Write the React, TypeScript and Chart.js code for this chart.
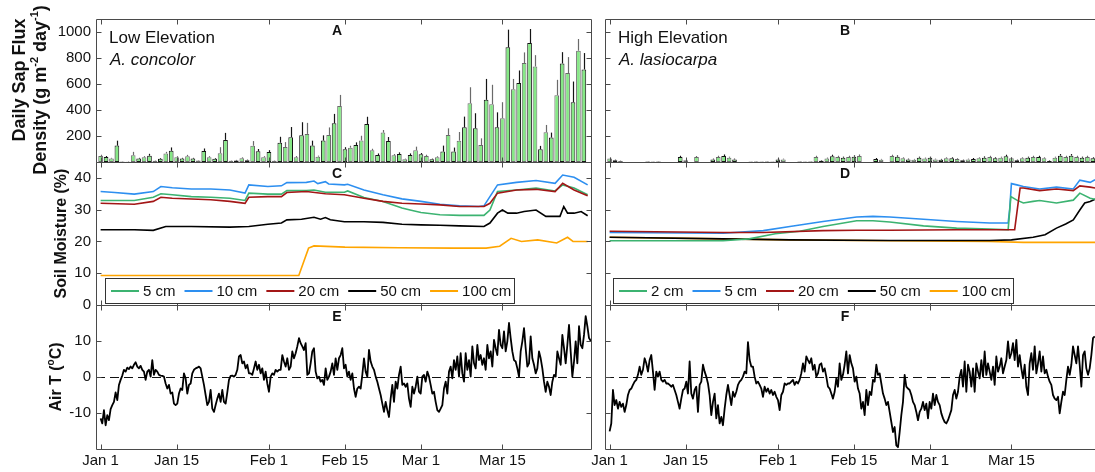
import React, { useEffect, useRef } from "react";
import { Chart, registerables } from "chart.js";

Chart.register(...registerables);

const FONT = "'Liberation Sans', Arial, Helvetica, sans-serif";
const INK = "#111111";

// ---------------- data ----------------
const dayTicks = [0, 14, 31, 45, 59, 74];
const dayTickLabels = ["Jan 1", "Jan 15", "Feb 1", "Feb 15", "Mar 1", "Mar 15"];
const sapTicks = [200, 400, 600, 800, 1000];
const soilTicks = [0, 10, 20, 30, 40];
const soilTickMarks = [10, 20, 30, 40];
const airTicks = [-10, 0, 10];

// daily sap flux density, day index 0 = Jan 1
const sapLow = [
  46, 38, 26, 126, 4, 2, 52, 26, 37, 48,
  9, 25, 66, 86, 37, 26, 45, 26, 12, 84,
  37, 25, 68, 170, 9, 12, 28, 14, 125, 82,
  37, 76, 10, 148, 115, 191, 36, 206, 216, 126,
  41, 165, 208, 298, 431, 99, 110, 131, 166, 292,
  90, 54, 226, 162, 51, 62, 21, 54, 90, 59,
  46, 21, 36, 80, 208, 80, 164, 267, 452, 260,
  131, 478, 445, 267, 337, 882, 560, 607, 761, 915,
  735, 98, 229, 188, 514, 758, 684, 460, 856, 712,
];
const sapLowErr = [
  10, 8, 6, 38, 2, 2, 26, 6, 8, 15,
  3, 6, 12, 26, 8, 6, 10, 6, 3, 20,
  8, 6, 46, 54, 3, 4, 8, 4, 36, 18,
  8, 15, 3, 46, 38, 78, 10, 100, 85, 38,
  8, 40, 58, 72, 85, 15, 15, 20, 36, 56,
  12, 12, 20, 30, 10, 12, 5, 12, 28, 10,
  10, 5, 8, 46, 51, 31, 67, 82, 123, 115,
  51, 161, 149, 115, 123, 136, 79, 97, 82, 108,
  87, 26, 56, 38, 118, 87, 123, 159, 90, 126,
];
const sapHigh = [
  26, 13, 8, 0, 0, 0, 0, 3, 3, 3,
  0, 0, 0, 38, 13, 0, 38, 0, 0, 20,
  38, 46, 33, 20, 0, 0, 3, 3, 3, 3,
  3, 20, 20, 0, 0, 3, 3, 3, 38, 10,
  26, 44, 38, 33, 38, 41, 46, 0, 0, 23,
  18, 0, 46, 41, 28, 20, 18, 33, 26, 33,
  20, 18, 28, 28, 23, 13, 20, 23, 28, 33,
  38, 28, 33, 44, 28, 13, 28, 33, 38, 38,
  28, 8, 33, 49, 38, 49, 38, 33, 38, 28,
];
const sapHighErr = [
  8, 5, 3, 0, 0, 0, 0, 1, 1, 1,
  0, 0, 0, 10, 5, 0, 8, 0, 0, 6,
  10, 12, 8, 6, 0, 0, 1, 1, 1, 1,
  1, 8, 6, 0, 0, 1, 1, 1, 10, 4,
  8, 12, 10, 8, 10, 10, 12, 0, 0, 8,
  6, 0, 10, 10, 8, 6, 6, 8, 8, 8,
  6, 6, 8, 8, 6, 5, 6, 8, 8, 10,
  10, 8, 8, 12, 8, 5, 8, 8, 10, 10,
  8, 4, 8, 12, 10, 12, 10, 8, 10, 8,
];

// soil moisture (%), [day, value]
const soilLowLabels = ["5 cm", "10 cm", "20 cm", "50 cm", "100 cm"];
const soilHighLabels = ["2 cm", "5 cm", "20 cm", "50 cm", "100 cm"];

const soilLow5 = [[0,32.9],[6.2,32.9],[9.7,33.9],[11.1,35.0],[13.2,34.7],[16.7,34.1],[20.3,33.9],[23.8,33.6],[26.6,32.9],[27.3,35.2],[30.8,34.9],[33.3,34.9],[34.3,36.0],[37.9,36.0],[39.3,36.2],[41.4,35.5],[44.9,35.5],[45.5,35.9],[48.5,33.8],[52,32.6],[55.5,30.5],[57,29.9],[59,29.1],[62.5,28.4],[66.1,28.2],[70.6,28.2],[71.7,29.9],[73.1,35.7],[76.6,36.2],[80.2,36.8],[83.7,35.9],[85.1,37.8],[87.2,36.8],[89.7,34.7]];
const soilLow10 = [[0,35.7],[2.6,35.4],[6.2,34.9],[9.7,35.7],[11.1,37.3],[13.2,36.9],[16.7,36.5],[20.3,36.5],[23.8,36.2],[26.6,35.2],[27.3,37.8],[30.8,37.3],[33.3,37.5],[34.3,38.5],[37.9,38.6],[39.3,39.0],[40.0,38.2],[41.4,38.8],[42.0,38.1],[44.9,37.8],[45.5,38.0],[48.5,36.2],[52,34.7],[55.5,33.4],[59,32.6],[62.5,31.7],[66.1,31.2],[69.6,31.0],[70.6,31.2],[71.7,34.1],[73.1,37.8],[76.6,38.6],[80.2,39.2],[83.7,38.3],[85.1,40.9],[87.2,40.2],[89.7,37.8]];
const soilLow20 = [[0,32.0],[6.2,31.7],[9.7,32.6],[11.1,33.9],[13.2,33.6],[20.3,33.1],[23.8,32.6],[26.6,32.0],[27.3,33.9],[30.8,34.1],[33.3,34.1],[34.3,35.4],[37.9,35.7],[41.4,35.0],[44.9,34.7],[48.5,33.6],[52,32.6],[55.5,32.0],[59,31.8],[62.5,31.5],[66.1,31.0],[70.6,31.0],[71.7,32.0],[73.1,35.2],[76.6,36.2],[80.2,36.4],[83.7,35.7],[85.1,38.3],[87.2,36.2],[89.7,34.4]];
const soilLow50 = [[0,23.7],[6.2,23.7],[9.7,23.5],[12,24.7],[16.7,24.7],[23.8,24.5],[27.3,24.7],[30.8,25.4],[33.3,25.8],[34.3,26.8],[37,27.0],[39.3,27.6],[40.5,27.0],[41.4,27.5],[42.3,26.8],[44.9,26.2],[48.5,26.2],[52,26.0],[55.5,25.4],[59,25.2],[62.5,25.1],[66.1,24.9],[70.6,24.7],[71.7,25.8],[73.1,28.9],[74,29.9],[75,28.9],[76.6,28.9],[78,29.4],[80.2,29.9],[82,27.9],[84.6,27.9],[85.3,31.0],[86,28.9],[87.2,28.9],[88.5,29.4],[89.7,28.1]];
const soilLow100 = [[0,9.3],[36.5,9.3],[38.3,17.9],[39.3,18.6],[45,18.2],[55,18.0],[65,17.9],[71,17.9],[73.5,18.5],[75.6,21.0],[77.5,20.0],[80.5,20.5],[84,19.5],[86,21.3],[87,20.0],[89.7,20.0]];

const soilHigh2 = [[0,20.2],[20.9,20.2],[25.7,20.8],[30.5,22.4],[35,23.2],[39.3,24.7],[45.5,26.5],[48.5,26.5],[51.6,26.1],[57.8,24.9],[63.9,24.2],[70,23.9],[73.4,23.7],[73.9,34.1],[75,33.0],[76.2,32.1],[78,32.6],[79.2,32.9],[82.3,32.1],[85.4,33.0],[86.6,35.2],[88.5,33.6],[89.4,33.3]];
const soilHigh5 = [[0,22.8],[20.9,22.6],[28.3,23.4],[33.2,24.7],[39.3,26.3],[45.5,27.7],[48.5,27.9],[51.6,27.7],[57.8,27.0],[63.9,26.3],[70,25.8],[73.4,25.8],[73.7,30.5],[74,38.2],[75,37.8],[76.2,37.3],[79.2,36.5],[82.3,37.1],[85.4,36.5],[86.6,39.3],[88.5,38.6],[89.4,39.4]];
const soilHigh20 = [[0,23.2],[20.9,22.8],[28.3,22.8],[39.3,23.4],[45.5,23.5],[51.6,23.5],[63.9,23.7],[74.6,23.7],[75.6,36.8],[76.2,36.8],[79.2,36.0],[82.3,36.5],[85.4,36.0],[86.6,37.5],[88.5,37.1],[89.4,36.8]];
const soilHigh50 = [[0,21.3],[20.9,20.8],[33.2,20.5],[51.6,20.3],[70,20.3],[74,20.5],[78,21.3],[80.2,22.1],[82.3,24.2],[84,25.5],[85.4,26.8],[86.6,29.9],[87.5,32.1],[88.5,32.6],[89.4,33.3]];
const soilHigh100 = [[0,21.3],[20.9,20.8],[33.2,20.5],[51.6,20.2],[70,20.0],[76.2,19.7],[89.4,19.7]];

// air temperature (deg C), sampled every airStepDays from Jan 1
const airStepDays = 0.307;
const airLow = [
  -11.5,-12.9,-9.2,-13.4,-10.6,-12,-8.9,-7.8,-6.9,-4.3,
  -6.4,-2.2,-0.8,0.4,2,1.5,2.6,2.2,2.9,2.4,
  3.4,4.1,2.9,2.4,3.1,2,1.5,-0.8,1.5,2,
  0.1,4.7,0.6,2,1.5,0.6,0.4,0.3,0.1,-1.8,
  -3.2,-2.2,-4.6,-4.3,-7.4,-7.8,-7.4,-4.6,-3.2,-3.6,
  1,-0.4,-4.6,-2.2,-1.8,1,2,2.4,2.6,2.9,
  2.4,0.1,-2.2,-5,-7.8,-6.9,-3.6,-8.8,-9.7,-7.8,
  -6,-4.6,-6.9,-3.6,-6.9,-7.4,-4.3,-0.8,0.3,0.4,
  0.1,0.6,2,5.7,6.1,3.8,4.3,2.4,3.4,1,
  1,0.6,2.4,4.3,2,3.4,1,2.4,-0.8,1.5,
  -1.8,-4.1,0.1,1,0.6,2,1.5,2,2,6.1,
  4.3,2.9,5.2,2,2.9,7.1,5.2,6.6,8.5,10.8,
  9.4,8.5,7.5,9.4,0.6,1,3.8,7.1,8,1.5,
  -0.4,0.1,-1.3,-0.8,-2.2,2.4,-0.8,0.1,1.5,3.8,
  0.6,5.2,2,5.2,6.1,8,2.4,
  3.4,0.1,1.5,-0.8,1,-3.2,-5.5,-3.2,-2.7,-3.2,
  0.6,5.2,1.5,0.1,7.5,4.3,2.9,2,0.1,-1.3,
  -3.2,-5,-7.4,-9.7,-6.9,-9.2,-11.1,-6,-2.2,-6.9,
  -1.3,-3.2,0.6,2.9,-2.2,-1.8,-2.7,-1.8,-6,-8.3,
  -2.7,-4.6,-2.7,0.1,-4.1,-4.6,0.1,0.6,-1.3,1.5,
  0.1,-2.2,-4.6,-4.1,-6.9,-9.2,-9.7,-8.8,-7.8,-3.2,
  -1.3,-4.6,1.5,2.9,-0.4,4.7,2,5.7,0.1,6.6,
  1,-1.3,6.6,2,4.7,0.1,8.5,3.8,2.4,8.9,
  4.7,6.1,3.4,5.2,2,8.9,5.2,7.1,2.9,10.3,
  8,6.1,13.1,8.9,8,12.7,7.1,9.9,15,10.8,
  7.1,4.7,4.3,2.4,0.1,7.1,9.9,13.6,8,2.9,
  3.8,11.3,5.2,3.4,1,2.4,7.1,5.2,2.4,-1.3,
  -4.1,-1.3,-2.7,-5,-1.3,0.6,0.1,7.1,5.2,3.4,
  11.7,8,3.8,8.9,14.5,7.1,0.1,4.3,9.9,3.8,
  14.1,8.9,8,11.7,16.9,14.1,10.8,10.1,10.1,
];
const airHigh = [
  -15.1,-12.9,-3.6,-7.8,-6.4,-8.8,-6.9,-8.3,-7.4,-9.7,
  -7.8,-5,-3.6,-3.2,-2.2,-1.3,-0.8,0.6,2.9,0.6,
  2,5.2,3.8,1.5,4.7,6.1,1.5,-3.6,1.5,0.1,
  1.5,-0.8,-1.3,-0.8,-1.8,-1.8,-2.2,-2.7,-2.2,-3.6,
  -5,-6.9,-8.8,-6,-3.6,-3.2,-1.3,-4.6,4.3,-4.6,
  -6,-3.6,-2.7,-9.7,-2.2,-1.3,3.4,1.5,0.1,-1.8,
  -5,-10.6,-6.9,-4.6,-11.5,-7.8,-12.9,-11.1,-13.4,-8.8,
  -5,-2.2,-5,-7.8,-4.1,-5.5,-4.1,-2.2,-1.3,-0.8,
  0.1,1.5,1,9.7,4.7,2.9,2.9,0.1,-1.8,-1.3,
  -2.2,-3.2,-5.5,-2.7,-4.1,-3.2,-4.6,-3.6,-5,-4.1,
  -5.5,-6.4,-9.2,-5,-4.1,-1.8,-2.2,-1.8,-1.8,-1.3,
  -0.8,-2.2,-1.3,-1.8,-0.8,1,3.8,1.5,5.7,4.7,
  3.8,5.2,2,3.4,0.1,1,3.4,3.8,1.5,2.4,
  0.1,-2.7,-3.2,-4.6,-6,-4.1,-0.4,-2.7,3.8,-0.8,
  0.6,3.4,7.1,1,6.1,3.8,
  2.4,-1.3,0.1,-3.2,-4.6,-8.8,-6.9,-10.6,-3.6,-7.8,
  -4.1,-5,-0.8,-1.3,3.4,0.6,1,-1.8,-4.6,-6,
  -7.8,-6.9,-9.7,-12.5,-15.3,-13.9,-19,-19.5,-15.3,-10.6,
  -6.9,0.6,-2.7,-3.2,-3.6,-5,-6.9,-7.8,-9.7,-12,
  -9.7,-8.8,-6.9,-9.2,-7.4,-11.5,-6.9,-8.8,-4.6,-7.8,
  -5,-6.9,-7.8,-10.1,-11.5,-12.5,-12.9,-12,-10.6,-9.2,
  -5,-3.6,-6,-4.1,0.1,2,-2.7,4.3,-4.1,3.4,
  1.5,-2.7,2.4,-4.1,3.8,1.5,-0.4,4.7,0.1,7.1,
  0.6,3.8,1.5,-0.8,2.9,-2.2,5.7,1.5,2.9,5.2,
  1,2.9,4.7,9.9,5.2,6.6,9.4,4.7,10.3,2.9,
  6.1,2.4,-0.4,3.4,-2.7,-5,3.8,6.6,2,8.5,
  1,3.8,7.1,1.5,5.7,1,2,0.1,-1.3,-2.2,
  -5,-6,-6.4,-5.5,-10.1,-6.9,-4.1,-5,-0.8,2.9,
  0.6,3.4,8.5,6.1,3.8,8.5,3.4,-2.7,6.1,7.1,
  2.4,0.6,2.4,6.1,10.8,11.3,
];

// ---------------- layout / style ----------------
const CW = 1110;
const CH = 472;
const COL_X = [[96, 592], [605, 1101]];
const ROW_Y = [[19, 162], [162, 305], [305, 449]];
const X_MIN = -0.85;
const X_MAX = 90.5;
const Y_RANGE = [[0, 1100], [0, 45], [-20, 20]];
const Y_AXIS_W = 60;
const X_AXIS_H = 20;
const LETTERS = [["A", "B"], ["C", "D"], ["E", "F"]];
const SOIL_COLORS = ["#3cb371", "#2d8ff0", "#a31616", "#000000", "#ffa500"];
const BAR_FILL = "#86e886";
const EDGE_DARK = "#141414";
const EDGE_GRAY = "#6a6a6a";
const FRAME = "#4a4a4a";

const toXY = (pairs: number[][]) => pairs.map(([x, y]) => ({ x, y }));

function sapDatasets(col: number) {
  const vals = col === 0 ? sapLow : sapHigh;
  return [
    {
      type: "bar",
      label: "Sap flux",
      data: vals.map((v, i) => ({ x: i, y: v })),
      backgroundColor: BAR_FILL,
      borderColor: vals.map((_, i) => (i % 2 === 1 ? EDGE_DARK : EDGE_GRAY)),
      borderWidth: 1,
      borderSkipped: false,
      barPercentage: 0.86,
      categoryPercentage: 1,
    },
  ];
}

function soilDatasets(col: number) {
  const series = col === 0
    ? [soilLow5, soilLow10, soilLow20, soilLow50, soilLow100]
    : [soilHigh2, soilHigh5, soilHigh20, soilHigh50, soilHigh100];
  const labels = col === 0 ? soilLowLabels : soilHighLabels;
  return series.map((s, k) => ({
    type: "line",
    label: labels[k],
    data: toXY(s),
    borderColor: SOIL_COLORS[k],
    backgroundColor: SOIL_COLORS[k],
    borderWidth: 1.6,
    pointRadius: 0,
    tension: 0,
    fill: false,
    order: k === 2 ? -1 : k,
  }));
}

function airDatasets(col: number) {
  const vals = col === 0 ? airLow : airHigh;
  return [
    {
      type: "line",
      label: "Air T",
      data: vals.map((v, i) => ({ x: i * airStepDays, y: v })),
      borderColor: "#000",
      borderWidth: 1.8,
      borderJoinStyle: "round",
      pointRadius: 0,
      tension: 0,
      fill: false,
    },
  ];
}

type Part = { t: string; sup?: boolean };

function drawRotated(ctx: CanvasRenderingContext2D, cx: number, cy: number, parts: Part[], size: number) {
  ctx.save();
  ctx.translate(cx, cy);
  ctx.rotate(-Math.PI / 2);
  const big = `bold ${size}px ${FONT}`;
  const small = `bold ${Math.round(size * 0.62)}px ${FONT}`;
  let total = 0;
  for (const p of parts) {
    ctx.font = p.sup ? small : big;
    total += ctx.measureText(p.t).width;
  }
  let x = -total / 2;
  ctx.textBaseline = "middle";
  ctx.textAlign = "left";
  ctx.fillStyle = INK;
  for (const p of parts) {
    ctx.font = p.sup ? small : big;
    ctx.fillText(p.t, x, p.sup ? -size * 0.36 : 0);
    x += ctx.measureText(p.t).width;
  }
  ctx.restore();
}

function drawLegend(ctx: CanvasRenderingContext2D, x0: number, y0: number, w: number, h: number, labels: string[]) {
  ctx.save();
  ctx.fillStyle = "#fff";
  ctx.fillRect(x0, y0, w, h);
  ctx.strokeStyle = "#333";
  ctx.lineWidth = 1;
  ctx.strokeRect(x0 + 0.5, y0 + 0.5, w, h);
  ctx.font = `15px ${FONT}`;
  ctx.textBaseline = "middle";
  ctx.textAlign = "left";
  const cy = y0 + h / 2 + 0.5;
  let x = x0 + 6;
  labels.forEach((lab, k) => {
    ctx.strokeStyle = SOIL_COLORS[k];
    ctx.lineWidth = 2;
    ctx.beginPath();
    ctx.moveTo(x, cy);
    ctx.lineTo(x + 28, cy);
    ctx.stroke();
    x += 32;
    ctx.fillStyle = INK;
    ctx.fillText(lab, x, cy + 1);
    x += ctx.measureText(lab).width + 9;
  });
  ctx.restore();
}

function decoPlugin(col: number, row: number) {
  return {
    id: `deco${col}${row}`,
    beforeDatasetsDraw(chart: any) {
      if (row !== 2) return;
      const { ctx, chartArea: a, scales } = chart;
      const y = Math.round(scales.y.getPixelForValue(0)) + 0.5;
      ctx.save();
      ctx.strokeStyle = "#111";
      ctx.lineWidth = 1;
      ctx.setLineDash([9, 5]);
      ctx.beginPath();
      ctx.moveTo(a.left, y);
      ctx.lineTo(a.right, y);
      ctx.stroke();
      ctx.restore();
    },
    afterDatasetsDraw(chart: any) {
      if (row !== 0) return;
      const { ctx, scales } = chart;
      const vals = col === 0 ? sapLow : sapHigh;
      const errs = col === 0 ? sapLowErr : sapHighErr;
      ctx.save();
      ctx.lineWidth = 1.2;
      vals.forEach((v, i) => {
        if (errs[i] <= 0) return;
        const x = Math.round(scales.x.getPixelForValue(i)) + 0.5;
        const y1 = scales.y.getPixelForValue(v);
        const y2 = scales.y.getPixelForValue(v + errs[i]);
        ctx.strokeStyle = i % 2 === 1 ? EDGE_DARK : EDGE_GRAY;
        ctx.beginPath();
        ctx.moveTo(x, y1);
        ctx.lineTo(x, y2);
        ctx.stroke();
      });
      ctx.restore();
    },
    afterDraw(chart: any) {
      const { ctx, chartArea: a, scales } = chart;
      const L = Math.round(a.left) + 0.5;
      const R = Math.round(a.right) - 0.5;
      const T = Math.round(a.top) + 0.5;
      const B = Math.round(a.bottom) + 0.5;
      ctx.save();
      ctx.strokeStyle = FRAME;
      ctx.lineWidth = 1;
      ctx.beginPath();
      ctx.moveTo(L, T); ctx.lineTo(R, T); ctx.lineTo(R, B); ctx.lineTo(L, B); ctx.closePath();
      ctx.stroke();
      ctx.beginPath();
      dayTicks.forEach((d) => {
        const x = Math.round(scales.x.getPixelForValue(d)) + 0.5;
        ctx.moveTo(x, T); ctx.lineTo(x, T + 5);
        ctx.moveTo(x, B); ctx.lineTo(x, B - 5);
      });
      const yMarks = row === 0 ? sapTicks : row === 1 ? soilTickMarks : airTicks;
      yMarks.forEach((v) => {
        const y = Math.round(scales.y.getPixelForValue(v)) + 0.5;
        ctx.moveTo(L, y); ctx.lineTo(L + 5, y);
        ctx.moveTo(R, y); ctx.lineTo(R - 5, y);
      });
      ctx.stroke();
      ctx.fillStyle = INK;
      ctx.font = `bold 14px ${FONT}`;
      ctx.textAlign = "center";
      ctx.textBaseline = "middle";
      ctx.fillText(LETTERS[row][col], (a.left + a.right) / 2 - 7 + (col === 1 ? -1 : 0), a.top + 12);
      if (row === 0) {
        ctx.textAlign = "left";
        ctx.textBaseline = "alphabetic";
        ctx.font = `17px ${FONT}`;
        ctx.fillText(col === 0 ? "Low Elevation" : "High Elevation", a.left + 13, 43);
        ctx.font = `italic 17px ${FONT}`;
        ctx.fillText(col === 0 ? "A. concolor" : "A. lasiocarpa", a.left + 14, 65);
      }
      if (row === 1) {
        if (col === 0) drawLegend(ctx, 105, 278, 409, 25, soilLowLabels);
        else drawLegend(ctx, 613, 278, 400, 25, soilHighLabels);
      }
      ctx.restore();
      if (col === 0) {
        if (row === 0) {
          drawRotated(ctx, 20, 80, [{ t: "Daily Sap Flux" }], 18);
          drawRotated(ctx, 41, 90, [
            { t: "Density (g m" }, { t: "-2", sup: true }, { t: " day" }, { t: "-1", sup: true }, { t: ")" },
          ], 18);
        } else if (row === 1) {
          drawRotated(ctx, 62, (a.top + a.bottom) / 2, [{ t: "Soil Moisture (%)" }], 16);
        } else {
          drawRotated(ctx, 57, (a.top + a.bottom) / 2, [{ t: "Air T (" }, { t: "o", sup: true }, { t: "C)" }], 16);
        }
      }
    },
  };
}

function buildConfig(col: number, row: number): any {
  const [x0, x1] = COL_X[col];
  const [y0, y1] = ROW_Y[row];
  const yLabels = col === 0;
  const xLabels = row === 2;
  const datasets = row === 0 ? sapDatasets(col) : row === 1 ? soilDatasets(col) : airDatasets(col);
  const yTicks = row === 0 ? sapTicks : row === 1 ? soilTicks : airTicks;
  return {
    type: row === 0 ? "bar" : "line",
    data: { datasets },
    options: {
      responsive: false,
      maintainAspectRatio: false,
      animation: false,
      devicePixelRatio: 1,
      events: [],
      layout: {
        autoPadding: false,
        padding: {
          left: yLabels ? x0 - Y_AXIS_W : x0,
          right: CW - x1,
          top: y0,
          bottom: xLabels ? CH - y1 - X_AXIS_H : CH - y1,
        },
      },
      plugins: {
        legend: { display: false },
        tooltip: { enabled: false },
        title: { display: false },
      },
      scales: {
        x: {
          type: "linear",
          min: X_MIN,
          max: X_MAX,
          offset: false,
          display: xLabels,
          grid: { display: false, drawTicks: false, offset: false },
          border: { display: false },
          afterBuildTicks: (s: any) => {
            s.ticks = dayTicks.map((v) => ({ value: v }));
          },
          afterFit: (s: any) => {
            s.height = xLabels ? X_AXIS_H : 0;
          },
          ticks: {
            autoSkip: false,
            maxRotation: 0,
            minRotation: 0,
            padding: 3,
            color: INK,
            font: { family: FONT, size: 15 },
            callback: (v: any) => {
              const k = dayTicks.indexOf(Number(v));
              return k >= 0 ? dayTickLabels[k] : "";
            },
          },
        },
        y: {
          type: "linear",
          min: Y_RANGE[row][0],
          max: Y_RANGE[row][1],
          display: yLabels,
          grid: { display: false, drawTicks: false },
          border: { display: false },
          afterBuildTicks: (s: any) => {
            s.ticks = yTicks.map((v) => ({ value: v }));
          },
          afterFit: (s: any) => {
            s.width = yLabels ? Y_AXIS_W : 0;
          },
          ticks: {
            padding: 5,
            color: INK,
            font: { family: FONT, size: 15 },
            callback: (v: any) => String(v),
          },
        },
      },
    },
    plugins: [decoPlugin(col, row)],
  };
}

const PANELS = [
  [0, 0], [1, 0],
  [0, 1], [1, 1],
  [0, 2], [1, 2],
];

export default function App() {
  const refs = useRef<(HTMLCanvasElement | null)[]>([]);
  useEffect(() => {
    const charts = PANELS.map(([c, r], i) => new Chart(refs.current[i] as HTMLCanvasElement, buildConfig(c, r)));
    return () => charts.forEach((ch) => ch.destroy());
  }, []);
  return (
    <div
      style={{
        position: "absolute",
        left: 0,
        top: 0,
        width: 1095,
        height: 472,
        overflow: "hidden",
        background: "#fff",
      }}
    >
      {PANELS.map((_, i) => (
        <canvas
          key={i}
          ref={(el) => {
            refs.current[i] = el;
          }}
          width={CW}
          height={CH}
          style={{ position: "absolute", left: 0, top: 0, width: CW, height: CH }}
        />
      ))}
    </div>
  );
}
